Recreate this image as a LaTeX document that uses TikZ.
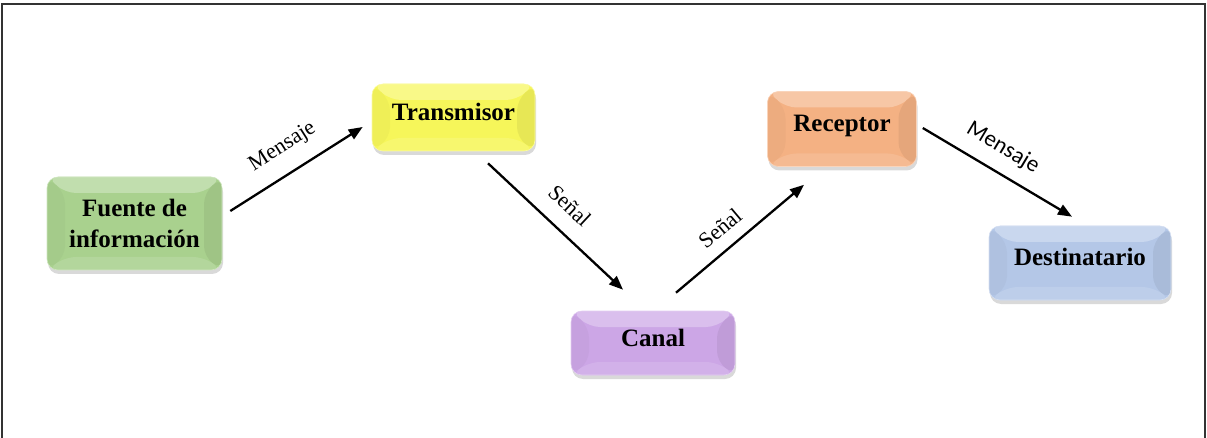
\documentclass[tikz,border=0pt]{standalone}
\usepackage{fontspec}
\setmainfont{Liberation Serif}
\newfontfamily\calib{Carlito}
\usetikzlibrary{shadows,calc,arrows.meta}
\definecolor{cgreen}{RGB}{169,209,142}
\definecolor{cyellow}{RGB}{246,246,90}
\definecolor{cpurple}{RGB}{204,166,230}
\definecolor{corange}{RGB}{244,177,131}
\definecolor{cblue}{RGB}{180,199,231}
\tikzset{
  box/.style={rounded corners=11pt, draw=#1!55!white, line width=0.6pt,
    fill=#1,
    path picture={
      \coordinate (nw) at (path picture bounding box.north west);
      \coordinate (ne) at (path picture bounding box.north east);
      \coordinate (sw) at (path picture bounding box.south west);
      \coordinate (se) at (path picture bounding box.south east);
      \fill[#1!72!white] (nw) -- (ne) -- ([xshift=-18pt,yshift=-16pt]ne) -- ([xshift=18pt,yshift=-16pt]nw) -- cycle;
      \fill[#1!97!black] (nw) -- ([xshift=18pt,yshift=-16pt]nw) -- ([xshift=18pt,yshift=13pt]sw) -- (sw) -- cycle;
      \fill[#1!94!black] (ne) -- ([xshift=-18pt,yshift=-16pt]ne) -- ([xshift=-18pt,yshift=13pt]se) -- (se) -- cycle;
      \fill[#1!88!white] (sw) -- ([xshift=18pt,yshift=13pt]sw) -- ([xshift=-18pt,yshift=13pt]se) -- (se) -- cycle;
    },
    drop shadow={opacity=0.3, shadow xshift=1pt, shadow yshift=-4pt},
    font=\bfseries\fontsize{25}{31}\selectfont, text=black, align=center},
  upper/.style={text height=18pt, text depth=12pt},
  arr/.style={-{Triangle[length=14pt,width=11pt]}, line width=2.3pt, black},
  lab/.style={sloped, anchor=center, inner sep=0pt, font=\fontsize{22}{24}\selectfont},
  labsans/.style={sloped, anchor=center, inner sep=0pt, font=\calib\fontsize{23}{25}\selectfont}
}
\begin{document}
\begin{tikzpicture}[x=1pt,y=-1pt]
\useasboundingbox (0,0) rectangle (1207,438);
\draw[line width=1.2pt, black!80] (2,440) -- (2,4) -- (1205,4) -- (1205,440);

\node[box=cgreen, minimum width=175pt, minimum height=93pt] (fuente) at (134.5,223.5) {Fuente de\\información};
\node[box=cyellow, upper, minimum width=163pt, minimum height=67pt] (trans) at (453.5,117.5) {Transmisor};
\node[box=cpurple, upper, minimum width=164pt, minimum height=64pt] (canal) at (653,343) {Canal};
\node[box=corange, upper, minimum width=149pt, minimum height=75pt] (recep) at (842,129) {Receptor};
\node[box=cblue, upper, minimum width=182pt, minimum height=74pt] (dest) at (1080,263) {Destinatario};

\draw[arr] ($(fuente.east)+(8,-12.5)$) -- ($(trans.west)+(-9,9.5)$)
  node[lab, pos=0.5, yshift=26pt] {Mensaje};
\draw[arr] ($(trans.south)+(34.5,12)$) -- ($(canal.north)+(-30,-21)$)
  node[lab, pos=0.48, yshift=25pt] {Señal};
\draw[arr] ($(canal.north)+(23,-18)$) -- ($(recep.south)+(-38,18)$)
  node[lab, pos=0.45, yshift=21pt] {Señal};
\draw[arr] ($(recep.east)+(6,-1)$) -- ($(dest.north)+(-8,-9)$)
  node[labsans, pos=0.455, yshift=24pt] {Mensaje};
\end{tikzpicture}
\end{document}
